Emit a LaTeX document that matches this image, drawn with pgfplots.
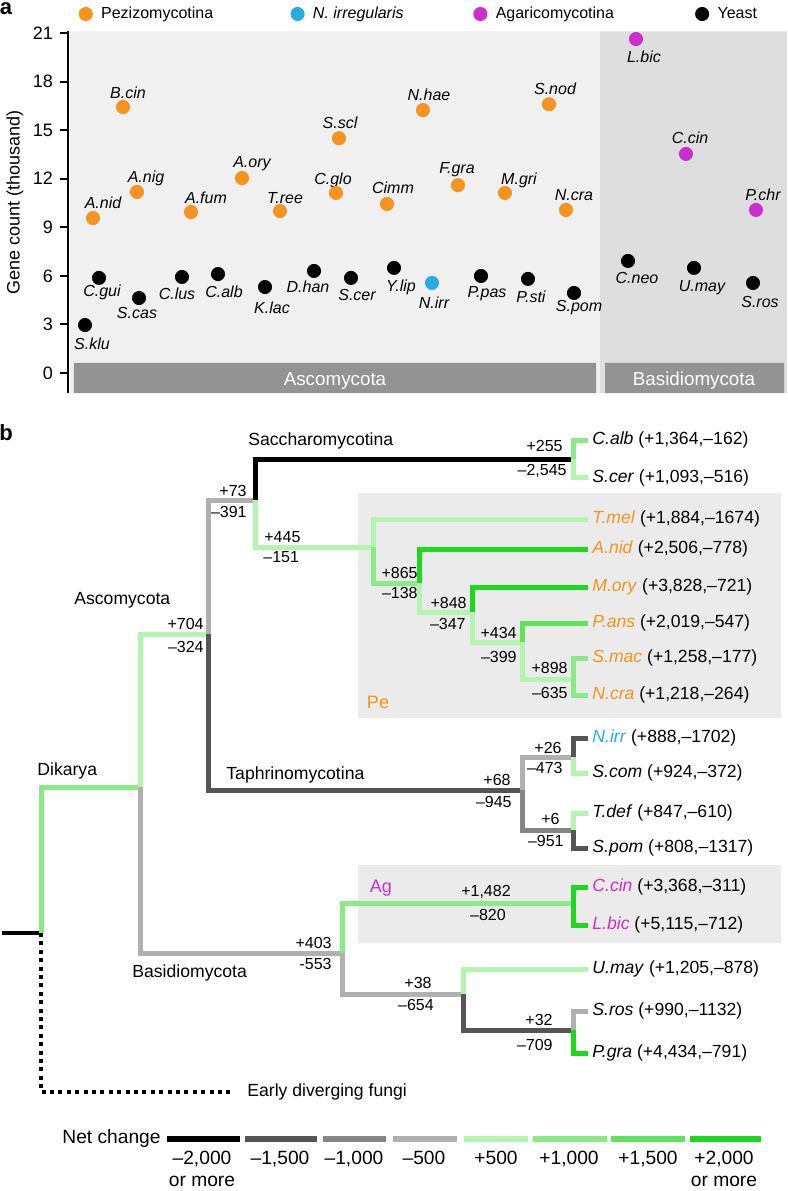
\documentclass[border=0pt]{standalone}
\usepackage{fontspec}
\setmainfont{Liberation Sans}
\usepackage{pgfplots}
\pgfplotsset{compat=1.18}
\definecolor{cOr}{HTML}{F7931E}
\definecolor{cBl}{HTML}{29ABE2}
\definecolor{cMa}{HTML}{CC2ECC}
\definecolor{bgA}{HTML}{F0F0F0}
\definecolor{bgB}{HTML}{DEDEDE}
\definecolor{barG}{HTML}{939393}
\definecolor{boxG}{HTML}{EBEBEB}
\definecolor{nA}{HTML}{000000}
\definecolor{nB}{HTML}{555555}
\definecolor{nC}{HTML}{858585}
\definecolor{nD}{HTML}{B0B0B0}
\definecolor{pA}{HTML}{B3F5AF}
\definecolor{pB}{HTML}{8AEA86}
\definecolor{pC}{HTML}{5EE35A}
\definecolor{pD}{HTML}{1ED81E}
\newcommand\fs[1]{\fontsize{#1}{#1}\selectfont}
\tikzset{
 br/.style={line width=2.5pt, line join=miter, line cap=butt},
 lf/.style={anchor=west, inner sep=0pt, font=\fs{8.8}},
 nm/.style={inner sep=0pt, font=\fs{8}},
 pl/.style={inner sep=0pt, font=\fs{8}\itshape},
 lg/.style={inner sep=0pt, anchor=north, align=center, font=\fontsize{9.6}{10.6}\selectfont}
}
\begin{document}
\begin{tikzpicture}
% ---------------- panel b (pixel coordinates) ----------------
\begin{axis}[name=B, at={(0,0)}, anchor=south west, scale only axis,
  width=394pt, height=595.5pt, xmin=0, xmax=788, ymin=0, ymax=1191,
  y dir=reverse, hide axis, clip=false, no markers]
% clade boxes
\addplot[fill=boxG, draw=none] coordinates {(358,493) (781,493) (781,718) (358,718) (358,493)};
\addplot[fill=boxG, draw=none] coordinates {(358,865) (781,865) (781,943) (358,943) (358,865)};
% root and outgroup
\addplot[line width=2pt, black] coordinates {(2,933) (41,933)};
\addplot[line width=2pt, black, dash pattern=on 2pt off 2.2pt] coordinates {(41,933) (41,1092) (233,1092)};
% branches
\addplot[br, pB] coordinates {(41,933) (41,787) (140,787)};
\addplot[br, pA] coordinates {(140,787) (140,634) (208,634)};
\addplot[br, nD] coordinates {(140,787) (140,953) (342,953)};
\addplot[br, nD] coordinates {(208,634) (208,500) (255,500)};
\addplot[br, nB] coordinates {(208,634) (208,790) (522,790)};
\addplot[br, nA] coordinates {(255,500) (255,459) (573,459)};
\addplot[br, pA] coordinates {(255,500) (255,547) (373,547)};
\addplot[br, pB] coordinates {(573,459) (573,440) (588,440)};
\addplot[br, pA] coordinates {(573,459) (573,477) (588,477)};
\addplot[br, pA] coordinates {(373,547) (373,519) (588,519)};
\addplot[br, pB] coordinates {(373,547) (373,583) (419,583)};
\addplot[br, pD] coordinates {(419,583) (419,549) (588,549)};
\addplot[br, pA] coordinates {(419,583) (419,612) (472,612)};
\addplot[br, pD] coordinates {(472,612) (472,587) (588,587)};
\addplot[br, pA] coordinates {(472,612) (472,642) (522,642)};
\addplot[br, pC] coordinates {(522,642) (522,623) (588,623)};
\addplot[br, pA] coordinates {(522,642) (522,679) (573,679)};
\addplot[br, pB] coordinates {(573,679) (573,658) (588,658)};
\addplot[br, pB] coordinates {(573,679) (573,695) (588,695)};
\addplot[br, nD] coordinates {(522,790) (522,757) (573,757)};
\addplot[br, nB] coordinates {(573,757) (573,738) (588,738)};
\addplot[br, pA] coordinates {(573,757) (573,773) (588,773)};
\addplot[br, nC] coordinates {(522,790) (522,830) (573,830)};
\addplot[br, pA] coordinates {(573,830) (573,813) (588,813)};
\addplot[br, nB] coordinates {(573,830) (573,848) (588,848)};
\addplot[br, pB] coordinates {(342,953) (342,903) (573,903)};
\addplot[br, pD] coordinates {(573,903) (573,887) (588,887)};
\addplot[br, pD] coordinates {(573,903) (573,925) (588,925)};
\addplot[br, nD] coordinates {(342,953) (342,994) (463,994)};
\addplot[br, pA] coordinates {(463,994) (463,969) (588,969)};
\addplot[br, nB] coordinates {(463,994) (463,1030) (573,1030)};
\addplot[br, nD] coordinates {(573,1030) (573,1011) (588,1011)};
\addplot[br, pD] coordinates {(573,1030) (573,1053) (588,1053)};
% net change legend bars
\addplot[line width=3pt, nA] coordinates {(167,1139) (240,1139)};
\addplot[line width=3pt, nB] coordinates {(245,1139) (317,1139)};
\addplot[line width=3pt, nC] coordinates {(323,1139) (386,1139)};
\addplot[line width=3pt, nD] coordinates {(393,1139) (457,1139)};
\addplot[line width=3pt, pA] coordinates {(464,1139) (528,1139)};
\addplot[line width=3pt, pB] coordinates {(533,1139) (607,1139)};
\addplot[line width=3pt, pC] coordinates {(611,1139) (685,1139)};
\addplot[line width=3pt, pD] coordinates {(690,1139) (761,1139)};
% panel letters
\node[inner sep=0pt, font=\fs{11}\bfseries] at (axis cs:6,9) {a};
\node[inner sep=0pt, font=\fs{11}\bfseries] at (axis cs:6,433) {b};
% leaf labels
\node[lf] at (axis cs:592,440) {\textit{C.alb} (+1,364,–162)};
\node[lf] at (axis cs:592,478) {\textit{S.cer} (+1,093,–516)};
\node[lf] at (axis cs:592,519) {{\color{cOr}\textit{T.mel}} (+1,884,–1674)};
\node[lf] at (axis cs:592,549) {{\color{cOr}\textit{A.nid}} (+2,506,–778)};
\node[lf] at (axis cs:592,587) {{\color{cOr}\textit{M.ory}} (+3,828,–721)};
\node[lf] at (axis cs:592,623) {{\color{cOr}\textit{P.ans}} (+2,019,–547)};
\node[lf] at (axis cs:592,658) {{\color{cOr}\textit{S.mac}} (+1,258,–177)};
\node[lf] at (axis cs:592,695) {{\color{cOr}\textit{N.cra}} (+1,218,–264)};
\node[lf] at (axis cs:592,738) {{\color{cBl}\textit{N.irr}} (+888,–1702)};
\node[lf] at (axis cs:592,773) {\textit{S.com} (+924,–372)};
\node[lf] at (axis cs:592,813) {\textit{T.def} (+847,–610)};
\node[lf] at (axis cs:592,848) {\textit{S.pom} (+808,–1317)};
\node[lf] at (axis cs:592,887) {{\color{cMa}\textit{C.cin}} (+3,368,–311)};
\node[lf] at (axis cs:592,925) {{\color{cMa}\textit{L.bic}} (+5,115,–712)};
\node[lf] at (axis cs:592,969) {\textit{U.may} (+1,205,–878)};
\node[lf] at (axis cs:592,1011) {\textit{S.ros} (+990,–1132)};
\node[lf] at (axis cs:592,1053) {\textit{P.gra} (+4,434,–791)};
% clade labels
\node[lf] at (axis cs:248,441) {Saccharomycotina};
\node[lf] at (axis cs:74,600) {Ascomycota};
\node[lf] at (axis cs:37,771) {Dikarya};
\node[lf] at (axis cs:226,775) {Taphrinomycotina};
\node[lf] at (axis cs:132,973) {Basidiomycota};
\node[lf] at (axis cs:247,1092) {Early diverging fungi};
\node[inner sep=0pt, font=\fs{9}, text=cOr] at (axis cs:378,702) {Pe};
\node[inner sep=0pt, font=\fs{9}, text=cMa] at (axis cs:381,888) {Ag};
% branch numbers
\node[nm, anchor=east] at (axis cs:563,446) {+255};
\node[nm, anchor=east] at (axis cs:567,471) {–2,545};
\node[nm, anchor=east] at (axis cs:247,491) {+73};
\node[nm, anchor=east] at (axis cs:247,512) {–391};
\node[nm, anchor=west] at (axis cs:264,537) {+445};
\node[nm, anchor=west] at (axis cs:263,557) {–151};
\node[nm, anchor=east] at (axis cs:204,624) {+704};
\node[nm, anchor=east] at (axis cs:204,647) {–324};
\node[nm, anchor=east] at (axis cs:418,573) {+865};
\node[nm, anchor=east] at (axis cs:418,593) {–138};
\node[nm, anchor=east] at (axis cs:467,603) {+848};
\node[nm, anchor=east] at (axis cs:466,624) {–347};
\node[nm, anchor=east] at (axis cs:517,633) {+434};
\node[nm, anchor=east] at (axis cs:517,657) {–399};
\node[nm, anchor=east] at (axis cs:568,668) {+898};
\node[nm, anchor=east] at (axis cs:568,693) {–635};
\node[nm, anchor=east] at (axis cs:511,780) {+68};
\node[nm, anchor=east] at (axis cs:512,802) {–945};
\node[nm, anchor=east] at (axis cs:562,748) {+26};
\node[nm, anchor=east] at (axis cs:563,768) {–473};
\node[nm, anchor=east] at (axis cs:560,819) {+6};
\node[nm, anchor=east] at (axis cs:564,841) {–951};
\node[nm] at (axis cs:486,892) {+1,482};
\node[nm] at (axis cs:488,915) {–820};
\node[nm, anchor=east] at (axis cs:332,943) {+403};
\node[nm, anchor=east] at (axis cs:332,964) {-553};
\node[nm] at (axis cs:418,983) {+38};
\node[nm] at (axis cs:416,1005) {–654};
\node[nm, anchor=east] at (axis cs:553,1020) {+32};
\node[nm, anchor=east] at (axis cs:553,1045) {–709};
% net change legend labels
\node[inner sep=0pt, anchor=west, font=\fs{9.6}] at (axis cs:62,1139) {Net change};
\node[lg] at (axis cs:202,1151) {–2,000\\or more};
\node[lg] at (axis cs:280,1151) {–1,500};
\node[lg] at (axis cs:354,1151) {–1,000};
\node[lg] at (axis cs:424,1151) {–500};
\node[lg] at (axis cs:496,1151) {+500};
\node[lg] at (axis cs:569,1151) {+1,000};
\node[lg] at (axis cs:648,1151) {+1,500};
\node[lg] at (axis cs:724,1151) {+2,000\\or more};
\end{axis}
% ---------------- panel a ----------------
\begin{axis}[at={(34pt,398.9pt)}, anchor=south west, scale only axis,
  width=360pt, height=180.9pt, xmin=68, xmax=788, ymin=-1.25, ymax=21.1,
  clip=false, axis x line=none, axis y line=left,
  axis line style={-, line width=1pt},
  ytick={0,3,...,21}, tick align=outside, major tick length=4pt,
  ytick style={line width=1pt, black},
  yticklabel style={font=\fs{9}}, /pgf/number format/assume math mode=true,
  ylabel={Gene count (thousand)},
  ylabel style={font=\fs{9}, at={(axis description cs:-0.0736,0.526)}, anchor=center},
  legend columns=4,
  legend image code/.code={\draw[#1] plot coordinates {(0pt,0pt)}; \path (-3.3pt,0pt) (7.5pt,0pt);},
  legend style={draw=none, fill=none, inner sep=0pt, font=\fs{8},
    nodes={inner sep=0pt},
    at={(axis description cs:0.0144,1)}, anchor=west, yshift=8.7pt,
    /tikz/every odd column/.append style={column sep=0pt},
    /tikz/every even column/.append style={column sep=0pt}},
  legend cell align=left]
\addplot[fill=bgA, draw=none, forget plot] coordinates {(70,-1.25) (600,-1.25) (600,21.1) (70,21.1) (70,-1.25)};
\addplot[fill=bgB, draw=none, forget plot] coordinates {(600,-1.25) (787,-1.25) (787,21.1) (600,21.1) (600,-1.25)};
\addplot[fill=barG, draw=none, forget plot] coordinates {(74,-1.25) (596,-1.25) (596,0.62) (74,0.62) (74,-1.25)};
\addplot[fill=barG, draw=none, forget plot] coordinates {(605,-1.25) (784,-1.25) (784,0.62) (605,0.62) (605,-1.25)};
\addplot[only marks, mark=*, mark size=3.3pt, cOr] coordinates {
 (93,9.57) (123,16.43) (137,11.18) (191,9.94) (242,12.04) (280,10.0) (339,14.5)
 (336,11.12) (387,10.44) (423,16.24) (458,11.6) (505,11.12) (549,16.6) (566,10.07)};
\addlegendentry{\makebox[94.7pt][l]{Pezizomycotina}}
\addplot[only marks, mark=*, mark size=3.3pt, cBl] coordinates {(432,5.56)};
\addlegendentry{\makebox[80.2pt][l]{\textit{N. irregularis}}}
\addplot[only marks, mark=*, mark size=3.3pt, cMa] coordinates {(636,20.63) (686,13.53) (756,10.07)};
\addlegendentry{\makebox[99.7pt][l]{Agaricomycotina}}
\addplot[only marks, mark=*, mark size=3.3pt, black] coordinates {
 (85,2.96) (99,5.87) (139,4.63) (182,5.93) (218,6.11) (265,5.31) (314,6.3) (351,5.87)
 (394,6.49) (481,5.99) (528,5.81) (574,4.94) (628,6.92) (694,6.49) (753,5.56)};
\addlegendentry{Yeast}
\node[inner sep=0pt, font=\fs{9.4}, text=white] at (axis cs:335,-0.47) {Ascomycota};
\node[inner sep=0pt, font=\fs{9.4}, text=white] at (axis cs:694,-0.47) {Basidiomycota};
% orange labels
\node[pl] at (axis cs:103,10.50) {A.nid};
\node[pl] at (axis cs:128,17.29) {B.cin};
\node[pl] at (axis cs:146,12.04) {A.nig};
\node[pl] at (axis cs:206,10.81) {A.fum};
\node[pl] at (axis cs:252,12.91) {A.ory};
\node[pl] at (axis cs:285,10.81) {T.ree};
\node[pl] at (axis cs:340,15.44) {S.scl};
\node[pl] at (axis cs:333,11.92) {C.glo};
\node[pl] at (axis cs:393,11.43) {Cimm};
\node[pl] at (axis cs:429,17.17) {N.hae};
\node[pl] at (axis cs:457,12.54) {F.gra};
\node[pl] at (axis cs:519,11.92) {M.gri};
\node[pl] at (axis cs:555,17.54) {S.nod};
\node[pl] at (axis cs:574,10.99) {N.cra};
\node[pl] at (axis cs:644,19.52) {L.bic};
\node[pl] at (axis cs:690,14.52) {C.cin};
\node[pl] at (axis cs:763,10.99) {P.chr};
% black labels
\node[pl] at (axis cs:92,1.79) {S.klu};
\node[pl] at (axis cs:102,5.00) {C.gui};
\node[pl] at (axis cs:137,3.71) {S.cas};
\node[pl] at (axis cs:177,4.88) {C.lus};
\node[pl] at (axis cs:224,5.00) {C.alb};
\node[pl] at (axis cs:272,4.01) {K.lac};
\node[pl] at (axis cs:308,5.31) {D.han};
\node[pl] at (axis cs:357,4.82) {S.cer};
\node[pl] at (axis cs:401,5.31) {Y.lip};
\node[pl] at (axis cs:434,4.32) {N.irr};
\node[pl] at (axis cs:487,4.88) {P.pas};
\node[pl] at (axis cs:531,4.69) {P.sti};
\node[pl] at (axis cs:579,4.01) {S.pom};
\node[pl] at (axis cs:637,5.87) {C.neo};
\node[pl] at (axis cs:702,5.25) {U.may};
\node[pl] at (axis cs:760,4.39) {S.ros};
\end{axis}
\pgfresetboundingbox
\path (0,0) rectangle (394pt,595.5pt);
\end{tikzpicture}
\end{document}
